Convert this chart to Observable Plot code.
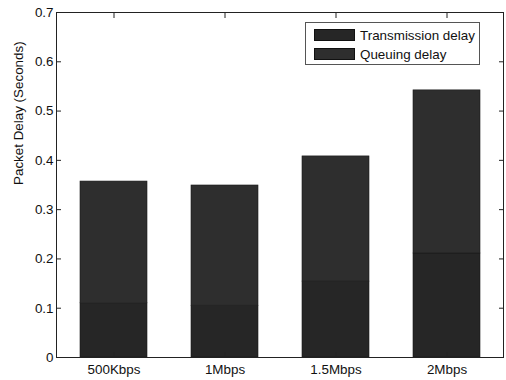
<!DOCTYPE html>
<html>
<head>
<meta charset="utf-8">
<script src="https://cdn.jsdelivr.net/npm/d3@7"></script>
<script src="https://cdn.jsdelivr.net/npm/@observablehq/plot@0.6"></script>
<style>
  html, body { margin: 0; padding: 0; background: #fff; }
  #wrap { position: relative; width: 506px; height: 380px; font-family: "Liberation Sans", Arial, sans-serif; }
  #legend {
    position: absolute; left: 305px; top: 22px; width: 175px; height: 43px;
    border: 1px solid #555; background: #fff; box-sizing: border-box;
    font-size: 13.4px; color: #111;
  }
  .row { position: absolute; left: 8px; display: flex; align-items: center; height: 14px; }
  .sw { width: 41px; height: 12px; margin-right: 5px; box-sizing: border-box; border: 0.5px solid #111; }
</style>
</head>
<body>
<div id="wrap">
  <div id="chart"></div>
  <div id="legend"></div>
</div>
<script>
// Link rates on the x axis
const rates = ["500Kbps", "1Mbps", "1.5Mbps", "2Mbps"];
// Delay components (seconds)
const transmissionDelay = [0.110, 0.105, 0.154, 0.211];
const totalDelay = [0.357, 0.349, 0.408, 0.542];
const queuingDelay = totalDelay.map((t, i) => t - transmissionDelay[i]);
// Series names and fills
const seriesNames = ["Transmission delay", "Queuing delay"];
const seriesColors = ["#262626", "#2e2e2e"];
const yTicks = [0, 0.1, 0.2, 0.3, 0.4, 0.5, 0.6, 0.7];

const rows = [];
rates.forEach((r, i) => {
  rows.push({rate: r, series: seriesNames[0], value: transmissionDelay[i]});
  rows.push({rate: r, series: seriesNames[1], value: queuingDelay[i]});
});

const fmt = d => d === 0 ? "0" : d.toFixed(1);
const font = "Liberation Sans, Arial, sans-serif";

const chart = Plot.plot({
  width: 506,
  height: 380,
  marginLeft: 56,
  marginRight: 3,
  marginTop: 12,
  marginBottom: 23,
  style: {fontFamily: font, fontSize: "13.4px", color: "#111", background: "#fff"},
  x: {domain: rates, paddingInner: 0.4, paddingOuter: 0.2, label: null},
  y: {domain: [0, 0.7], label: null},
  color: {domain: seriesNames, range: seriesColors},
  marks: [
    Plot.barY(rows, {x: "rate", y: "value", fill: "series", order: seriesNames, stroke: "#1a1a1a", strokeWidth: 0.6}),
    Plot.frame({stroke: "#222", strokeWidth: 1}),
    // tick labels
    Plot.axisY({ticks: yTicks, tickFormat: fmt, tickSize: 0, tickPadding: 3, fontSize: 13.4}),
    Plot.axisX({tickSize: 0, tickPadding: 7, fontSize: 13.4}),
    // inward tick marks on all four sides
    Plot.axisY({ticks: yTicks, tickSize: -5, text: null, stroke: "#222"}),
    Plot.axisY({anchor: "right", ticks: yTicks, tickSize: -5, text: null, stroke: "#222"}),
    Plot.axisX({anchor: "top", tickSize: -5, text: null, stroke: "#222"}),
    Plot.axisX({anchor: "bottom", tickSize: -5, text: null, stroke: "#222"}),
    Plot.text(["Packet Delay (Seconds)"], {
      frameAnchor: "left", dx: -38, rotate: -90, fontSize: 13.4, fill: "#111"
    })
  ]
});
document.getElementById("chart").appendChild(chart);

// legend box in the upper right of the plot area
const legend = document.getElementById("legend");
seriesNames.forEach((name, i) => {
  const row = document.createElement("div");
  row.className = "row";
  row.style.top = (5 + i * 19) + "px";
  const sw = document.createElement("div");
  sw.className = "sw";
  sw.style.background = seriesColors[i];
  const label = document.createElement("span");
  label.textContent = name;
  row.appendChild(sw);
  row.appendChild(label);
  legend.appendChild(row);
});
</script>
</body>
</html>
